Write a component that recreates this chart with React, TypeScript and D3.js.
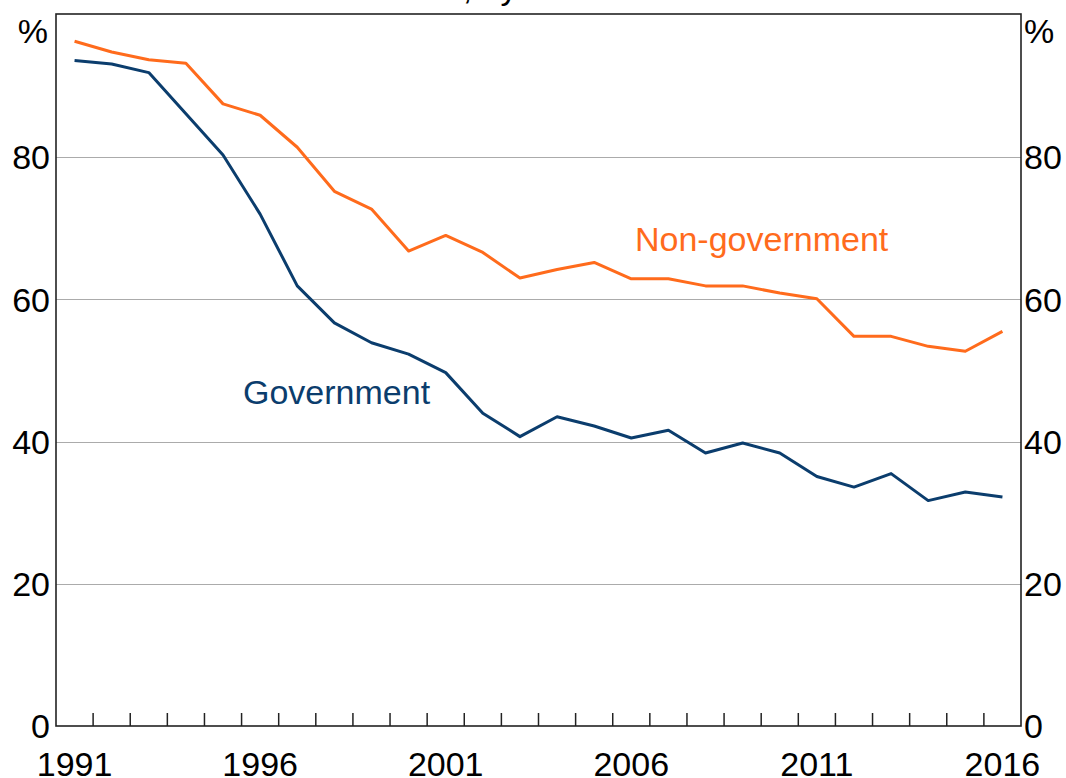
import React from "react";
import * as d3 from "d3";

const years: number[] = [
  1991, 1992, 1993, 1994, 1995, 1996, 1997, 1998, 1999, 2000, 2001, 2002, 2003,
  2004, 2005, 2006, 2007, 2008, 2009, 2010, 2011, 2012, 2013, 2014, 2015, 2016,
];
const government: number[] = [
  93.6, 93.1, 91.9, 86.1, 80.3, 72.0, 61.9, 56.7, 53.9, 52.3, 49.7, 44.0, 40.7,
  43.5, 42.2, 40.5, 41.6, 38.4, 39.8, 38.4, 35.1, 33.6, 35.5, 31.7, 32.9, 32.2,
];
const nonGovernment: number[] = [
  96.3, 94.8, 93.7, 93.2, 87.5, 85.9, 81.4, 75.2, 72.7, 66.8, 69.0, 66.6, 63.0,
  64.2, 65.2, 62.9, 62.9, 61.9, 61.9, 60.9, 60.1, 54.8, 54.8, 53.4, 52.7, 55.5,
];
const yTicks: number[] = [0, 20, 40, 60, 80];
const gridTicks: number[] = [20, 40, 60, 80];
const xLabelYears: number[] = [1991, 1996, 2001, 2006, 2011, 2016];
const title = "Year 12, by school sector";
const seriesLabels = { government: "Government", nonGovernment: "Non-government" };

const W = 1066;
const H = 778;
const left = 56;
const right = 1021;
const top = 14;
const bottom = 726;
const BLUE = "#0b3d6d";
const ORANGE = "#ff6b1c";
const FONT = "Arial, 'Liberation Sans', Helvetica, sans-serif";

export default function App() {
  const x = d3
    .scaleBand<number>()
    .domain(years)
    .range([left, right])
    .padding(0);
  const cx = (yr: number) => (x(yr) as number) + x.bandwidth() / 2;
  const y = d3.scaleLinear().domain([0, 100]).range([bottom, top + 1]);

  const line = d3
    .line<number>()
    .x((_, i) => cx(years[i]))
    .y((d) => y(d));

  const boundaries = years.slice(1).map((yr) => x(yr) as number);

  return (
    <div style={{ position: "absolute", top: 0, left: 0 }}>
      <svg width={W} height={H} style={{ display: "block", background: "#fff" }}>
        <text
          x={537}
          y={-1}
          textAnchor="middle"
          fontFamily={FONT}
          fontSize={34}
          fill="#000"
        >
          {title}
        </text>
        {gridTicks.map((t) => (
          <line
            key={"g" + t}
            x1={left}
            x2={right}
            y1={Math.round(y(t)) + 0.5}
            y2={Math.round(y(t)) + 0.5}
            stroke="#ababab"
            strokeWidth={1}
          />
        ))}
        {boundaries.map((bx, i) => (
          <line
            key={"t" + i}
            x1={bx}
            x2={bx}
            y1={bottom}
            y2={bottom - 13}
            stroke="#222"
            strokeWidth={1.5}
          />
        ))}
        <path
          d={line(nonGovernment) || ""}
          fill="none"
          stroke={ORANGE}
          strokeWidth={3}
          strokeLinejoin="round"
        />
        <path
          d={line(government) || ""}
          fill="none"
          stroke={BLUE}
          strokeWidth={3}
          strokeLinejoin="round"
        />
        <rect
          x={left}
          y={top}
          width={right - left}
          height={bottom - top}
          fill="none"
          stroke="#222"
          strokeWidth={1.6}
        />
        {yTicks.map((t) => (
          <g key={"y" + t} fontFamily={FONT} fontSize={34} fill="#000">
            <text x={50} y={y(t)} dy="0.36em" textAnchor="end">
              {t}
            </text>
            <text x={1024} y={y(t)} dy="0.36em" textAnchor="start">
              {t}
            </text>
          </g>
        ))}
        <text x={48} y={43} textAnchor="end" fontFamily={FONT} fontSize={34} fill="#000">
          %
        </text>
        <text x={1024} y={43} textAnchor="start" fontFamily={FONT} fontSize={34} fill="#000">
          %
        </text>
        {xLabelYears.map((yr) => (
          <text
            key={"x" + yr}
            x={cx(yr)}
            y={776}
            textAnchor="middle"
            fontFamily={FONT}
            fontSize={34}
            fill="#000"
          >
            {yr}
          </text>
        ))}
        <text x={243} y={404} fontFamily={FONT} fontSize={34} fill={BLUE}>
          {seriesLabels.government}
        </text>
        <text x={635} y={251} fontFamily={FONT} fontSize={34} fill={ORANGE}>
          {seriesLabels.nonGovernment}
        </text>
      </svg>
    </div>
  );
}
